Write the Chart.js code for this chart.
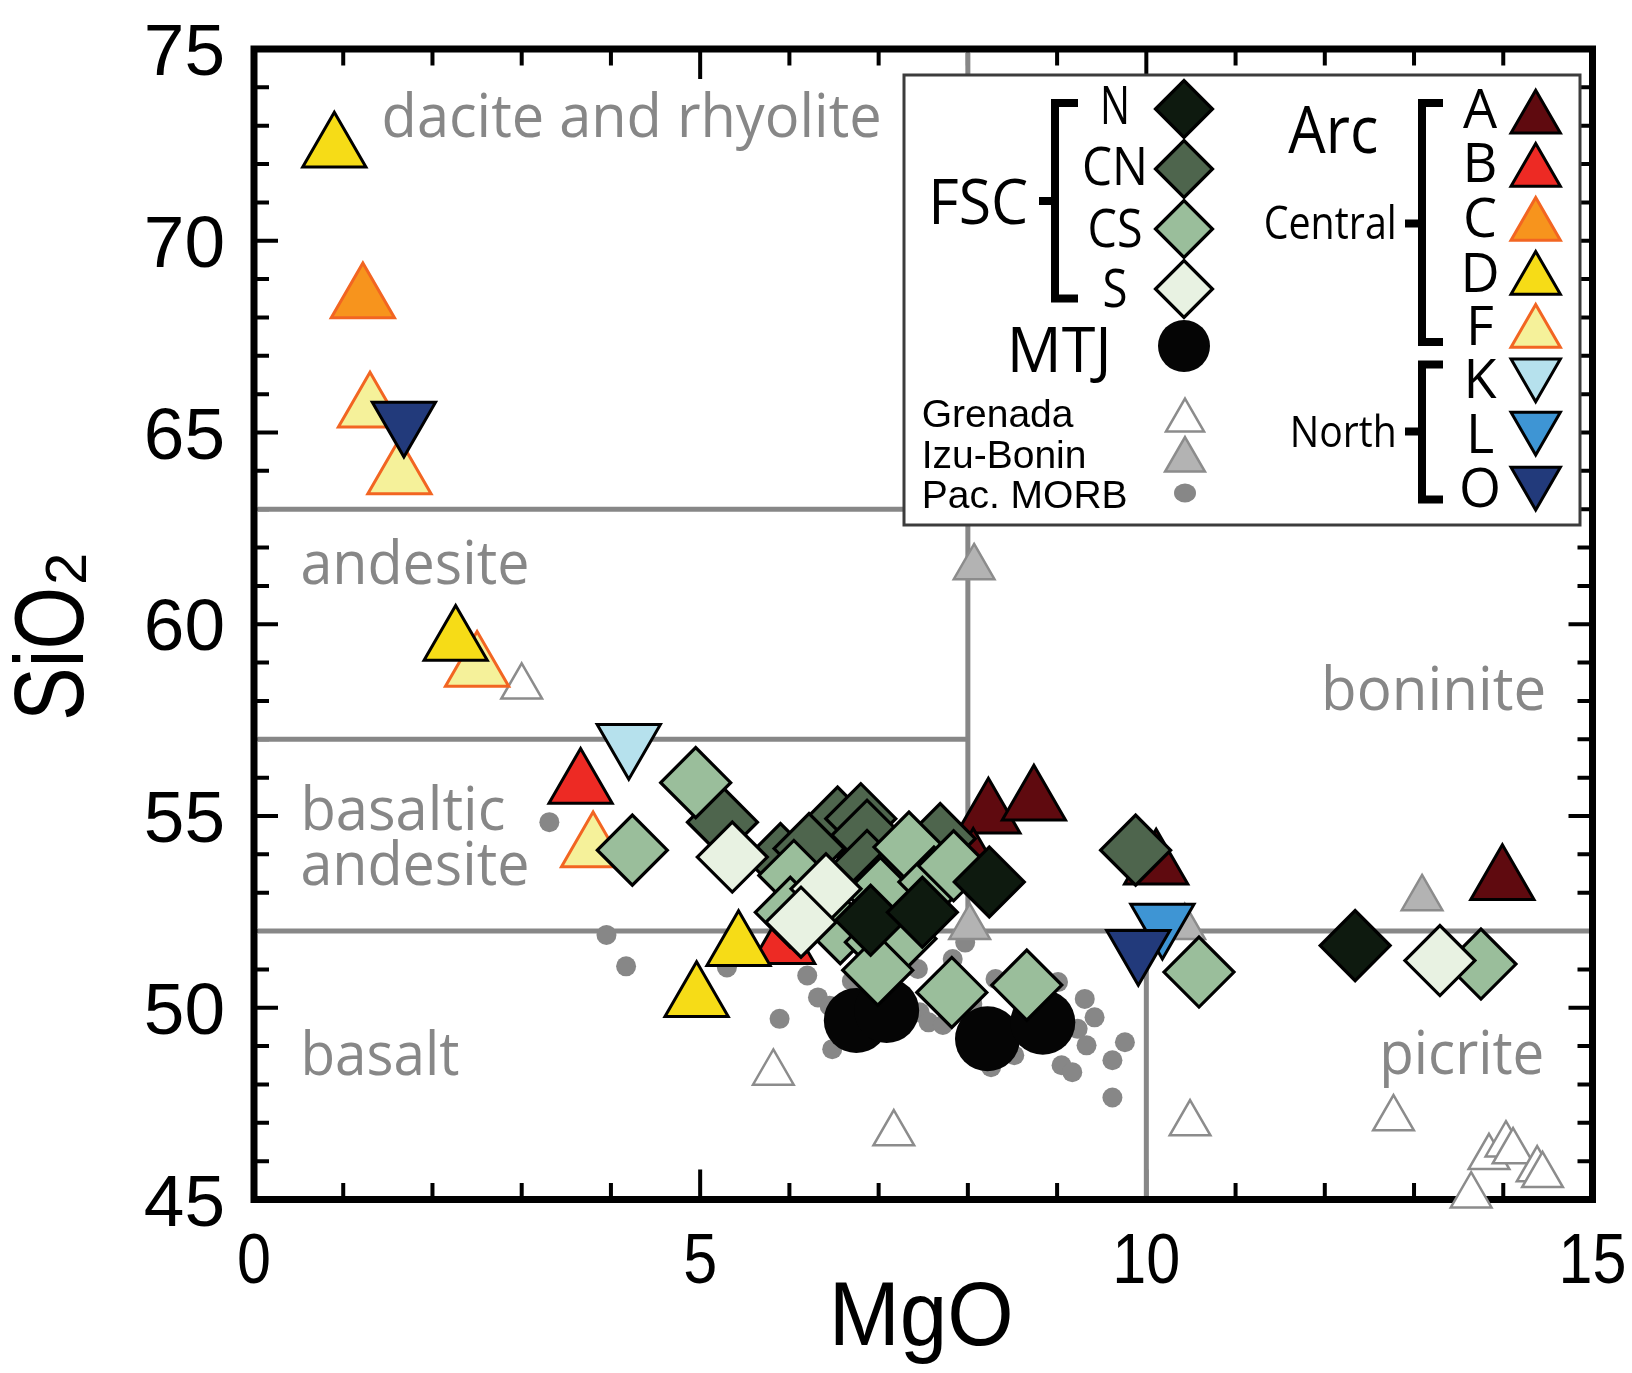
<!DOCTYPE html>
<html>
<head>
<meta charset="utf-8">
<script src="https://cdn.jsdelivr.net/npm/chart.js@4.4.0/dist/chart.umd.min.js"></script>
<style>
  body { margin: 0; background: #fff; }
  canvas { display: block; }
</style>
</head>
<body>
<canvas id="plot" width="1632" height="1373"></canvas>
<script>
// points are [MgO, SiO2] in wt%
// FSC groups
const fscN = [[8.24, 53.28], [6.91, 52.28], [7.49, 52.49], [12.34, 51.62]];
const fscCN = [[5.25, 54.84], [6.54, 54.84], [6.80, 54.93], [6.87, 54.50], [7.69, 54.41], [5.90, 53.89],
  [6.22, 54.15], [6.87, 53.71], [7.10, 53.28], [9.88, 54.11]];
const fscCS = [[4.24, 54.11], [4.95, 55.87], [7.34, 54.19], [6.05, 53.45], [6.01, 52.49], [7.02, 53.00],
  [7.62, 53.28], [6.57, 52.06], [7.02, 51.71], [7.25, 51.80], [7.84, 53.70], [6.99, 50.98],
  [7.82, 50.40], [8.66, 50.59], [10.59, 50.93], [13.75, 51.14]];
const fscS = [[5.36, 53.93], [6.41, 53.10], [6.13, 52.23], [13.29, 51.23]];
const mtj = [[6.75, 49.67], [7.09, 49.93], [8.22, 49.19], [8.84, 49.62]];
// Arc, central
const arcA = [[8.23, 55.03], [8.74, 55.37], [8.06, 53.72], [10.11, 53.70], [13.99, 53.30]];
const arcB = [[3.66, 55.81], [5.93, 51.63]];
const arcC = [[1.22, 68.47]];
const arcD = [[0.90, 72.40], [2.26, 59.54], [5.43, 51.58], [4.96, 50.25]];
const arcF = [[1.30, 65.62], [1.63, 63.88], [2.50, 58.86], [3.80, 54.15]];
// Arc, north
const arcK = [[4.20, 56.91]];
const arcL = [[10.18, 52.22]];
const arcO = [[1.68, 65.31], [9.91, 51.54]];
// comparison data
const grenada = [[3.00, 58.37], [5.82, 48.30], [7.17, 46.72], [10.49, 46.98], [12.77, 47.11], [13.84, 46.10],
  [14.03, 46.43], [14.11, 46.25], [14.38, 45.78], [14.44, 45.63], [13.64, 45.10]];
const izuBonin = [[8.07, 61.48], [8.02, 52.10], [13.09, 52.85], [10.43, 52.10]];
const pacMorb = [[3.31, 54.84], [3.95, 51.90], [4.17, 51.08], [5.30, 51.05], [5.89, 49.71], [6.20, 50.84],
  [6.32, 50.27], [6.48, 48.92], [6.70, 50.70], [6.95, 50.35], [6.45, 50.05], [7.15, 51.45], [7.36, 51.10],
  [7.44, 51.01], [7.46, 49.88], [7.56, 49.62], [7.72, 49.55], [7.83, 51.27], [7.97, 51.70], [8.05, 50.10],
  [8.31, 50.75], [8.52, 48.76], [8.26, 48.45], [8.55, 49.45], [9.01, 50.67], [9.31, 50.23], [9.23, 49.45],
  [9.33, 49.02], [9.42, 49.75], [9.05, 48.50], [9.17, 48.32], [9.62, 48.63], [9.76, 49.10], [9.62, 47.66]];

// axes
const xTicks = [0, 5, 10, 15];
const yTicks = [45, 50, 55, 60, 65, 70, 75];
// rock-type field boundaries [x1, y1, x2, y2]
const boundaries = [[0, 63, 8, 63], [0, 57, 8, 57], [0, 52, 15, 52], [8, 52, 8, 75], [10, 45, 10, 52]];
const rockNames = ['dacite and rhyolite', 'andesite', 'boninite', 'basaltic', 'andesite', 'basalt', 'picrite'];
const rockNameX = [1.43, 0.52, 14.48, 0.52, 0.52, 0.52, 14.46];
const rockNameY = [72.71, 61.05, 57.76, 54.63, 53.21, 48.25, 48.27];

// marker styles, shared with the legend
const styles = {
  N:  { shape: 'rectRot', fill: '#0e1a0f', line: '#000', r: 35, bw: 3.2 },
  CN: { shape: 'rectRot', fill: '#4e654d', line: '#000', r: 35, bw: 3.2 },
  CS: { shape: 'rectRot', fill: '#9abe9b', line: '#000', r: 35, bw: 3.2 },
  S:  { shape: 'rectRot', fill: '#e8f2e2', line: '#000', r: 35, bw: 3.2 },
  MTJ: { shape: 'circle', fill: '#050505', line: '#050505', r: 32.5, bw: 0 },
  A: { shape: 'triangle', fill: '#5f0a0f', line: '#000', r: 36.5, bw: 3 },
  B: { shape: 'triangle', fill: '#ed2a24', line: '#000', r: 36.5, bw: 3 },
  C: { shape: 'triangle', fill: '#f7941d', line: '#f26522', r: 36.5, bw: 3 },
  D: { shape: 'triangle', fill: '#f6dc17', line: '#000', r: 36.5, bw: 3 },
  F: { shape: 'triangle', fill: '#f5f19a', line: '#f26522', r: 36.5, bw: 3 },
  K: { shape: 'triangle', fill: '#b6e1ed', line: '#000', r: 36.5, bw: 3, rot: 180 },
  L: { shape: 'triangle', fill: '#3e95d4', line: '#000', r: 36.5, bw: 3, rot: 180 },
  O: { shape: 'triangle', fill: '#223a7b', line: '#000', r: 36.5, bw: 3, rot: 180 },
  Grenada: { shape: 'triangle', fill: '#ffffff', line: '#8c8c8c', r: 23.5, bw: 2.5 },
  IzuBonin: { shape: 'triangle', fill: '#b3b3b3', line: '#8c8c8c', r: 23.5, bw: 2.5 },
  MORB: { shape: 'circle', fill: '#878787', line: '#878787', r: 10, bw: 0 }
};

function markerSet(label, list, st, order) {
  return {
    label: label,
    data: list.map(p => ({ x: p[0], y: p[1] })),
    order: order,
    clip: false,
    showLine: false,
    pointStyle: st.shape,
    pointRotation: st.rot || 0,
    pointRadius: st.r,
    pointHoverRadius: st.r,
    pointBackgroundColor: st.fill,
    pointBorderColor: st.line,
    pointBorderWidth: st.bw
  };
}

const lineSets = boundaries.map(b => ({
  data: [{ x: b[0], y: b[1] }, { x: b[2], y: b[3] }],
  showLine: true,
  borderColor: '#878787',
  borderWidth: 5,
  pointRadius: 0,
  order: 100,
  clip: -3.5
}));

const datasets = lineSets.concat([
  markerSet('Pac. MORB', pacMorb, styles.MORB, 90),
  markerSet('Grenada', grenada, styles.Grenada, 80),
  markerSet('Izu-Bonin', izuBonin, styles.IzuBonin, 79),
  markerSet('MTJ', mtj, styles.MTJ, 70),
  markerSet('A', arcA, styles.A, 60),
  markerSet('B', arcB, styles.B, 59),
  markerSet('C', arcC, styles.C, 58),
  markerSet('F', arcF, styles.F, 57),
  markerSet('D', arcD, styles.D, 56),
  markerSet('K', arcK, styles.K, 55),
  markerSet('L', arcL, styles.L, 54),
  markerSet('O', arcO, styles.O, 53),
  markerSet('CN', fscCN, styles.CN, 40),
  markerSet('CS', fscCS, styles.CS, 39),
  markerSet('S', fscS, styles.S, 38),
  markerSet('N', fscN, styles.N, 37)
]);

const MYRIAD = '"Open Sans", "Noto Sans", sans-serif';
const HELV = '"Liberation Sans", Arial, sans-serif';

function drawMarker(ctx, st, x, y, r) {
  ctx.fillStyle = st.fill;
  ctx.strokeStyle = st.line;
  ctx.lineWidth = st.bw;
  Chart.helpers.drawPoint(ctx, { pointStyle: st.shape, rotation: st.rot || 0, radius: r, borderWidth: st.bw }, x, y);
}

function text(ctx, str, x, y, font, align, maxW) {
  ctx.font = font;
  ctx.textAlign = align;
  if (maxW) ctx.fillText(str, x, y, maxW);
  else ctx.fillText(str, x, y);
}

function bracket(ctx, x, top, bottom, serif, midY, midLen) {
  ctx.beginPath();
  ctx.moveTo(x + serif, top);
  ctx.lineTo(x, top);
  ctx.lineTo(x, bottom);
  ctx.lineTo(x + serif, bottom);
  ctx.moveTo(x, midY);
  ctx.lineTo(x - midLen, midY);
  ctx.stroke();
}

function drawLegend(ctx, a) {
  const L = a.right - 688.5, T = a.top + 26;
  ctx.save();
  ctx.fillStyle = '#fff';
  ctx.fillRect(L, T, 676, 450);
  ctx.strokeStyle = '#3c3c3c';
  ctx.lineWidth = 3;
  ctx.strokeRect(L, T, 676, 450);

  // FSC column
  const fsc = ['N', 'CN', 'CS', 'S'];
  const fscBase = [49.3, 110, 171.7, 231.7];
  const fscW = [30, 66, 55, 25];
  fsc.forEach((k, i) => {
    ctx.fillStyle = '#000';
    text(ctx, k, L + 211, T + fscBase[i], '53px ' + MYRIAD, 'center', fscW[i]);
    drawMarker(ctx, styles[k], L + 280, T + 34 + 60 * i, 28.5);
  });
  ctx.fillStyle = '#000';
  text(ctx, 'FSC', L + 124.3, T + 149.3, '63px ' + MYRIAD, 'right', 100);
  text(ctx, 'MTJ', L + 207.7, T + 296.7, '62px ' + MYRIAD, 'right', 105);
  drawMarker(ctx, styles.MTJ, L + 280, T + 271, 26);
  ctx.fillStyle = '#000';
  text(ctx, 'Grenada', L + 17.7, T + 351.7, '39px ' + HELV, 'left');
  text(ctx, 'Izu-Bonin', L + 17.7, T + 393.3, '39px ' + HELV, 'left');
  text(ctx, 'Pac. MORB', L + 17.7, T + 433.3, '39px ' + HELV, 'left', 209);
  drawMarker(ctx, styles.Grenada, L + 281, T + 345.5, 22);
  drawMarker(ctx, styles.IzuBonin, L + 281, T + 385, 23);
  ctx.fillStyle = styles.MORB.fill;
  ctx.beginPath();
  ctx.ellipse(L + 281, T + 418, 11, 9.5, 0, 0, Math.PI * 2);
  ctx.fill();

  // Arc column
  ctx.fillStyle = '#000';
  text(ctx, 'Arc', L + 384.3, T + 77.7, '65px ' + MYRIAD, 'left', 90);
  text(ctx, 'Central', L + 492.7, T + 164.3, '46px ' + MYRIAD, 'right', 133);
  text(ctx, 'North', L + 492.7, T + 371.7, '44px ' + MYRIAD, 'right', 107);
  const arc = ['A', 'B', 'C', 'D', 'F', 'K', 'L', 'O'];
  const arcBase = [53.3, 106.7, 161.7, 216.7, 270, 323.3, 377.7, 431.7];
  const arcY = [43.8, 97, 151, 205, 258, 298.2, 351.5, 406.5];
  arc.forEach((k, i) => {
    ctx.fillStyle = '#000';
    text(ctx, k, L + 576, T + arcBase[i], '54px ' + MYRIAD, 'center');
    drawMarker(ctx, styles[k], L + 631.7, T + arcY[i], 28.5);
  });

  ctx.strokeStyle = '#000';
  ctx.lineWidth = 8;
  ctx.lineCap = 'butt';
  ctx.lineJoin = 'miter';
  bracket(ctx, L + 151, T + 28, T + 223.5, 23, T + 126, 16);
  bracket(ctx, L + 518, T + 28, T + 267, 21, T + 148.5, 17);
  bracket(ctx, L + 518, T + 289.5, T + 424.5, 21, T + 356.5, 17);
  ctx.restore();
}

const chartDecor = {
  id: 'chartDecor',
  beforeDatasetsDraw(chart) {
    const ctx = chart.ctx, a = chart.chartArea;
    const xs = chart.scales.x, ys = chart.scales.y;
    ctx.save();
    ctx.textBaseline = 'alphabetic';

    // field names
    ctx.fillStyle = '#878787';
    const widths = [500, 229, 225, 205, 229, 159, 165];
    rockNames.forEach((n, i) => {
      const align = rockNameX[i] > 7.5 ? 'right' : 'left';
      text(ctx, n, xs.getPixelForValue(rockNameX[i]), ys.getPixelForValue(rockNameY[i]), '60px ' + MYRIAD, align, widths[i]);
    });

    // frame with inward ticks
    ctx.strokeStyle = '#000';
    ctx.lineWidth = 4;
    for (let v = xs.min + 1; v < xs.max; v++) {
      const px = xs.getPixelForValue(v);
      const len = v % 5 === 0 ? 30 : 16.5;
      ctx.beginPath();
      ctx.moveTo(px, a.bottom); ctx.lineTo(px, a.bottom - len);
      ctx.moveTo(px, a.top); ctx.lineTo(px, a.top + len);
      ctx.stroke();
    }
    for (let v = ys.min + 1; v < ys.max; v++) {
      const py = ys.getPixelForValue(v);
      const len = v % 5 === 0 ? 24 : 15;
      ctx.beginPath();
      ctx.moveTo(a.left, py); ctx.lineTo(a.left + len, py);
      ctx.moveTo(a.right, py); ctx.lineTo(a.right - len, py);
      ctx.stroke();
    }
    ctx.lineWidth = 7;
    ctx.strokeRect(a.left, a.top, a.right - a.left, a.bottom - a.top);

    // tick labels
    ctx.fillStyle = '#000';
    yTicks.forEach(v => {
      text(ctx, String(v), a.left - 29, ys.getPixelForValue(v) + 26, '73px ' + HELV, 'right');
    });
    ctx.font = '71px ' + HELV;
    xTicks.forEach(v => {
      const w = ctx.measureText(String(v)).width * 0.86;
      text(ctx, String(v), xs.getPixelForValue(v), a.bottom + 83.5, '71px ' + HELV, 'center', w);
    });

    // axis titles
    text(ctx, 'MgO', (a.left + a.right) / 2 - 2, a.bottom + 145.5, '91px ' + HELV, 'center', 185);
    ctx.save();
    ctx.translate(83, 721);
    ctx.rotate(-Math.PI / 2);
    text(ctx, 'SiO', 0, 0, '98px ' + HELV, 'left', 134);
    text(ctx, '2', 136, 3, '58px ' + HELV, 'left', 36);
    ctx.restore();
    ctx.restore();
  },
  afterDatasetsDraw(chart) {
    drawLegend(chart.ctx, chart.chartArea);
  }
};

new Chart(document.getElementById('plot'), {
  type: 'scatter',
  data: { datasets: datasets },
  options: {
    responsive: false,
    animation: false,
    events: [],
    layout: { padding: { left: 254, right: 39.5, top: 49, bottom: 173.5 } },
    scales: {
      x: { type: 'linear', min: 0, max: 15, display: false },
      y: { type: 'linear', min: 45, max: 75, display: false }
    },
    plugins: {
      legend: { display: false },
      tooltip: { enabled: false }
    }
  },
  plugins: [chartDecor]
});
</script>
</body>
</html>
